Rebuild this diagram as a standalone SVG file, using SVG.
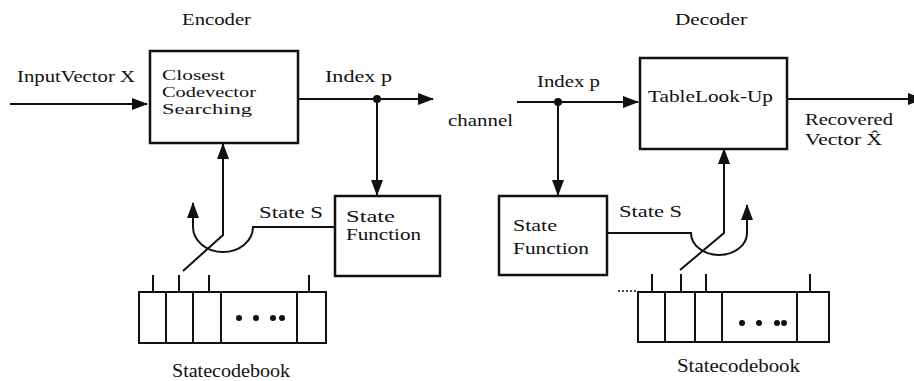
<svg xmlns="http://www.w3.org/2000/svg" width="914" height="381" viewBox="0 0 914 381">
  <style>
    .box { fill: none; stroke: #111; stroke-width: 2.5; }
    .cell { fill: none; stroke: #111; stroke-width: 2; }
    .arrow { fill: none; stroke: #111; stroke-width: 2; marker-end: url(#ah); }
    .dot { fill: #111; }
    .t { font-family: 'Liberation Serif', 'DejaVu Serif', serif; font-size: 17px; fill: #111; }
    .big { font-size: 19px; }
    .small { font-size: 15px; }
  </style>
  <defs>
    <marker id="ah" markerUnits="userSpaceOnUse" markerWidth="16" markerHeight="12" refX="15" refY="6" orient="auto">
      <path d="M0,0 L16,6 L0,12 z" fill="#111"/>
    </marker>
  </defs>
  <rect x="0" y="0" width="914" height="381" fill="#fff"/>

  <g id="titles" class="t">
    <text x="182" y="25" textLength="69" lengthAdjust="spacingAndGlyphs">Encoder</text>
    <text x="675" y="25" textLength="72" lengthAdjust="spacingAndGlyphs">Decoder</text>
  </g>

  <!-- Encoder nodes -->
  <g id="enc-search" class="t">
    <rect class="box" x="150" y="51" width="148" height="92"/>
    <text class="small" x="162" y="80" textLength="63" lengthAdjust="spacingAndGlyphs">Closest</text>
    <text class="small" x="162" y="97" textLength="94" lengthAdjust="spacingAndGlyphs">Codevector</text>
    <text class="small" x="162" y="114" textLength="90" lengthAdjust="spacingAndGlyphs">Searching</text>
  </g>
  <g id="enc-state-function" class="t">
    <rect class="box" x="335" y="196" width="105" height="80"/>
    <text x="346" y="222" textLength="49" lengthAdjust="spacingAndGlyphs">State</text>
    <text x="346" y="240" textLength="75" lengthAdjust="spacingAndGlyphs">Function</text>
  </g>
  <g id="enc-codebook" class="t">
    <rect class="cell" x="139" y="292" width="187" height="51"/>
    <path class="cell" d="M166,292 V343 M193,292 V343 M221,292 V343 M297,292 V343"/>
    <path class="cell" d="M153,275 V292 M179,275 V292 M209,275 V292 M309,275 V292"/>
    <circle class="dot" cx="239" cy="318" r="3"/>
    <circle class="dot" cx="256" cy="318" r="3"/>
    <circle class="dot" cx="273" cy="318" r="3"/>
    <circle class="dot" cx="282" cy="318" r="3"/>
    <text class="big" x="172" y="377" textLength="118" lengthAdjust="spacingAndGlyphs">Statecodebook</text>
  </g>

  <!-- Decoder nodes -->
  <g id="dec-lookup" class="t">
    <rect class="box" x="640" y="58" width="147" height="91"/>
    <text x="648" y="102" textLength="125" lengthAdjust="spacingAndGlyphs">TableLook-Up</text>
  </g>
  <g id="dec-state-function" class="t">
    <rect class="box" x="499" y="196" width="108" height="79"/>
    <text x="513" y="231" textLength="44" lengthAdjust="spacingAndGlyphs">State</text>
    <text x="513" y="254" textLength="76" lengthAdjust="spacingAndGlyphs">Function</text>
  </g>
  <g id="dec-codebook" class="t">
    <rect class="cell" x="638" y="292" width="191" height="50"/>
    <path class="cell" d="M665,292 V342 M695,292 V342 M722,292 V342 M797,292 V342"/>
    <path class="cell" d="M652,274 V292 M681,274 V292 M706,274 V292 M810,274 V292"/>
    <path d="M618,291 H637" fill="none" stroke="#111" stroke-width="1.5" stroke-dasharray="2,2"/>
    <circle class="dot" cx="742" cy="323" r="3"/>
    <circle class="dot" cx="759" cy="323" r="3"/>
    <circle class="dot" cx="777" cy="323" r="3"/>
    <circle class="dot" cx="784" cy="323" r="3"/>
    <text class="big" x="677" y="372" textLength="123" lengthAdjust="spacingAndGlyphs">Statecodebook</text>
  </g>

  <!-- Connectors -->
  <g id="connectors">
    <path class="arrow" d="M10,104 H147"/>
    <path class="arrow" d="M298,99 H433"/>
    <circle class="dot" cx="377" cy="99" r="4"/>
    <path class="arrow" d="M377,99 V195"/>
    <path class="arrow" d="M183,271 L223,235 V144"/>
    <path class="arrow" d="M335,227 H253 A30,25 0 0 1 193,227 V203"/>
    <path class="arrow" d="M517,102 H638"/>
    <circle class="dot" cx="558" cy="102" r="4"/>
    <path class="arrow" d="M558,102 V195"/>
    <path class="arrow" d="M787,99 H923"/>
    <path class="arrow" d="M680,270 L724,233 V149"/>
    <path class="arrow" d="M607,233 H691 A28,22 0 0 0 747,233 V205"/>
  </g>

  <!-- Connector labels -->
  <g id="labels" class="t">
    <text x="17" y="82" textLength="118" lengthAdjust="spacingAndGlyphs">InputVector X</text>
    <text x="325" y="82" textLength="67" lengthAdjust="spacingAndGlyphs">Index p</text>
    <text x="259" y="218" textLength="64" lengthAdjust="spacingAndGlyphs">State S</text>
    <text x="537" y="87" textLength="63" lengthAdjust="spacingAndGlyphs">Index p</text>
    <text x="448" y="126" textLength="65" lengthAdjust="spacingAndGlyphs">channel</text>
    <text x="805" y="125" textLength="88" lengthAdjust="spacingAndGlyphs">Recovered</text>
    <text x="805" y="145" textLength="77" lengthAdjust="spacingAndGlyphs">Vector X̂</text>
    <text x="619" y="217" textLength="63" lengthAdjust="spacingAndGlyphs">State S</text>
  </g>
</svg>
